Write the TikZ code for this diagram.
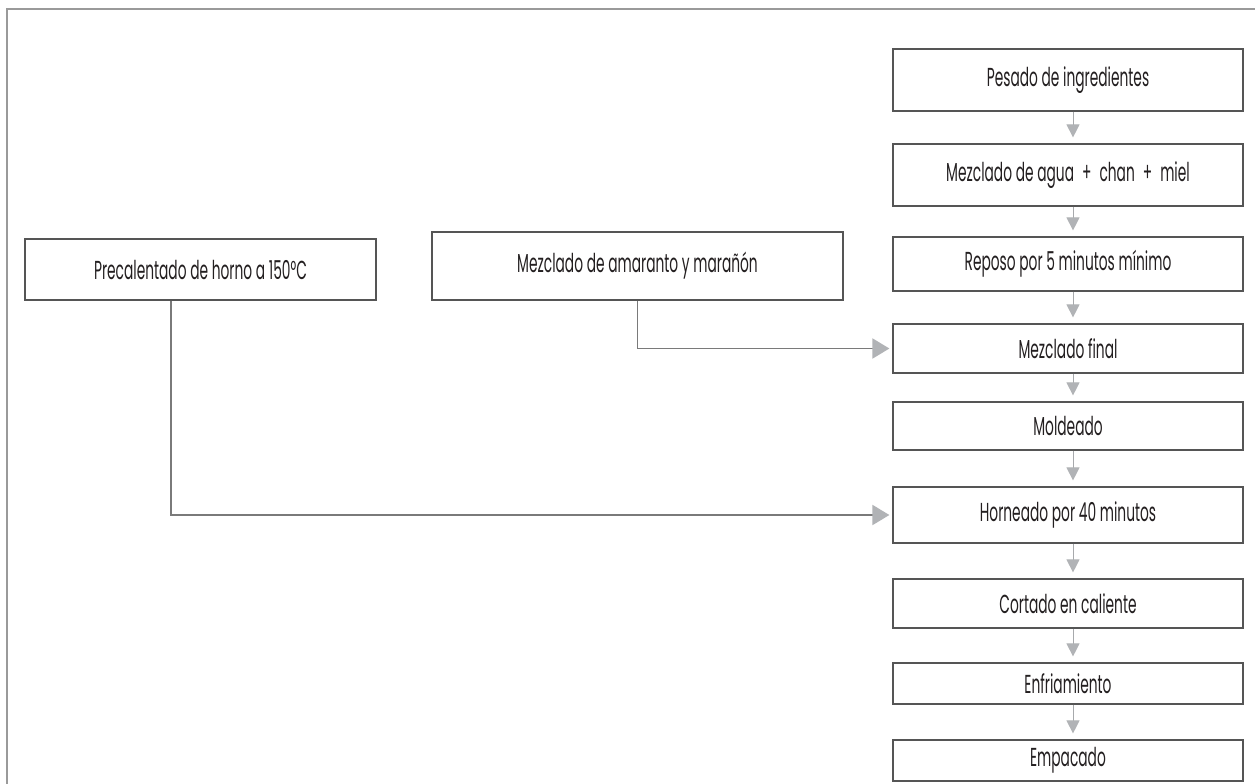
\documentclass[tikz,border=0pt]{standalone}
\usepackage{fontspec}
\setmainfont{Poppins}[FakeStretch=0.53]
\usetikzlibrary{arrows.meta}
\definecolor{boxline}{HTML}{555555}
\definecolor{frameg}{HTML}{9A9A9A}
\definecolor{arrg}{HTML}{B1B3B6}
\definecolor{linev}{HTML}{A7A9AC}
\definecolor{lineh}{HTML}{7A7A7A}
\definecolor{txt}{HTML}{231F20}
\tikzset{
  stepbox/.style={draw=boxline, line width=1.2pt, rectangle, inner sep=0pt,
    text=txt, font=\fontsize{26pt}{30pt}\selectfont, fill=white},
  colbox/.style={stepbox, minimum width=350pt},
  varrow/.style={draw=linev, line width=1pt, shorten >=6pt,
    -{Triangle[length=13pt,width=13pt,color=arrg]}},
  harrow/.style={draw=lineh, line width=1.8pt, shorten >=3pt,
    -{Triangle[length=17pt,width=20pt,color=arrg]}},
  framel/.style={draw=frameg, line width=2pt}
}
\begin{document}
\begin{tikzpicture}[x=1pt,y=-1pt]
\useasboundingbox (0,0) rectangle (1255,784);
\fill[white] (0,0) rectangle (1255,784);
\draw[framel] (7,785) -- (7,9) -- (1256,9);

\node[colbox, minimum height=62pt] (n1) at (1068,80) {Pesado de ingredientes};
\node[colbox, minimum height=62pt] (n2) at (1068,175) {Mezclado de agua \,+\, chan \,+\, miel};
\node[colbox, minimum height=54pt] (n3) at (1068,264) {Reposo por 5 minutos mínimo};
\node[colbox, minimum height=49pt] (n4) at (1068,348.5) {Mezclado final};
\node[colbox, minimum height=48pt] (n5) at (1068,426) {Moldeado};
\node[colbox, minimum height=56pt] (n6) at (1068,515) {Horneado por 40 minutos};
\node[colbox, minimum height=49pt] (n7) at (1068,603.5) {Cortado en caliente};
\node[colbox, minimum height=41pt] (n8) at (1068,683.5) {Enfriamiento};
\node[colbox, minimum height=41pt] (n9) at (1068,760.5) {Empacado};

\node[stepbox, minimum width=351pt, minimum height=61pt] (pre) at (200.5,269.5) {Precalentado de horno a 150°C};
\node[stepbox, minimum width=411pt, minimum height=68pt] (ama) at (637.5,266) {Mezclado de amaranto y marañón};

\foreach \a/\b in {n1/n2,n2/n3,n3/n4,n4/n5,n5/n6,n6/n7,n7/n8,n8/n9}{
  \draw[varrow] ([xshift=5pt]\a.south) -- ([xshift=5pt]\b.north);
}

\draw[harrow] (ama.south) |- (n4.west);
\draw[harrow] ([xshift=-29.5pt]pre.south) |- (n6.west);
\end{tikzpicture}
\end{document}
